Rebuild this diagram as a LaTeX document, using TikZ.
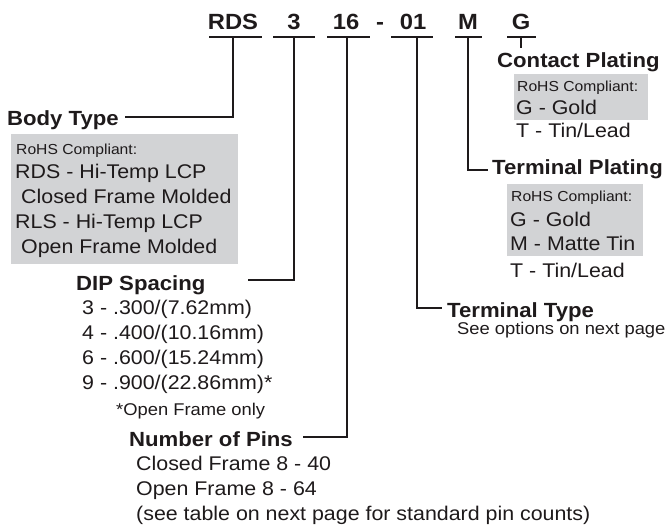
\documentclass[tikz,border=0pt]{standalone}
\usepackage{fontspec}
\setmainfont{Liberation Sans}[FakeStretch=1.08]
\definecolor{ink}{HTML}{1E1A1B}
\definecolor{boxgray}{HTML}{D2D3D5}
\begin{document}
\begin{tikzpicture}[x=1pt,y=-1pt,
  code/.style={inner sep=0pt,anchor=base,font=\fontsize{22}{26}\selectfont\bfseries,text=ink},
  hdr/.style={inner sep=0pt,anchor=base west,font=\fontsize{20.5}{24}\selectfont\bfseries,text=ink},
  txt/.style={inner sep=0pt,anchor=base west,font=\fontsize{19.8}{24}\selectfont,text=ink},
  mid/.style={inner sep=0pt,anchor=base west,font=\fontsize{17}{20}\selectfont,text=ink},
  sm/.style={inner sep=0pt,anchor=base west,font=\fontsize{14.5}{17}\selectfont,text=ink},
  uline/.style={draw=ink,line width=1.6pt},
  conn/.style={draw=ink,line width=1.5pt},
  graybox/.style={fill=boxgray,draw=none}]
\useasboundingbox (0,0) rectangle (668,526);
% part number code
\node[code] (cRDS) at (233,30) {RDS};
\node[code] (c3) at (294,30) {3};
\node[code] (c16) at (346,30) {16};
\node[code] (cdash) at (380,30) {-};
\node[code] (c01) at (413,30) {01};
\node[code] (cM) at (468,30) {M};
\node[code] (cG) at (521,30) {G};
\draw[uline] (209,37) -- (262,37);
\draw[uline] (273,37) -- (315,37);
\draw[uline] (327,37) -- (370,37);
\draw[uline] (391,37) -- (433,37);
\draw[uline] (455,37) -- (482,37);
\draw[uline] (507,37) -- (536,37);
\coordinate (uRDS) at (233,37);
\coordinate (u3) at (294,37);
\coordinate (u16) at (347,37);
\coordinate (u01) at (417,37);
\coordinate (uM) at (468,37);
\coordinate (uG) at (521,37);
% connector ends
\coordinate (eBT) at (125,117);
\coordinate (eDIP) at (248,280);
\coordinate (ePins) at (303,437);
\coordinate (eTT) at (442,308);
\coordinate (eTP) at (488,170);
\coordinate (eCP) at (521,48);
\draw[conn] (uRDS) |- (eBT);
\draw[conn] (u3) |- (eDIP);
\draw[conn] (u16) |- (ePins);
\draw[conn] (u01) |- (eTT);
\draw[conn] (uM) |- (eTP);
\draw[conn] (uG) -- (eCP);
% gray boxes
\path[graybox] (11,134) rectangle (238,264);
\path[graybox] (514,74) rectangle (648,120);
\path[graybox] (507,184) rectangle (643,256);
% Contact Plating
\node[hdr] (cp) at (497,68) {Contact Plating};
\node[sm] (cp1) at (517,92) {RoHS Compliant:};
\node[txt] (cp2) at (516,115) {G - Gold};
\node[txt] (cp3) at (516,138) {T - Tin/Lead};
% Terminal Plating
\node[hdr] (tp) at (492,175) {Terminal Plating};
\node[sm] (tp1) at (511,202) {RoHS Compliant:};
\node[txt] (tp2) at (510,227) {G - Gold};
\node[txt] (tp3) at (510,251) {M - Matte Tin};
\node[txt] (tp4) at (510,277) {T - Tin/Lead};
% Terminal Type
\node[hdr] (tt) at (447,317) {Terminal Type};
\node[mid] (tt1) at (457,334) {See options on next page};
% Body Type
\node[hdr] (bt) at (7,126) {Body Type};
\node[sm] (bt1) at (16,155) {RoHS Compliant:};
\node[txt] (bt2) at (15,179) {RDS - Hi-Temp LCP};
\node[txt] (bt3) at (21,204) {Closed Frame Molded};
\node[txt] (bt4) at (15,229) {RLS - Hi-Temp LCP};
\node[txt] (bt5) at (21,254) {Open Frame Molded};
% DIP Spacing
\node[hdr] (dip) at (76,290) {DIP Spacing};
\node[txt] (d1) at (82,314) {3 - .300/(7.62mm)};
\node[txt] (d2) at (82,339) {4 - .400/(10.16mm)};
\node[txt] (d3) at (82,364) {6 - .600/(15.24mm)};
\node[txt] (d4) at (82,389) {9 - .900/(22.86mm)*};
\node[mid] (d5) at (116,415) {*Open Frame only};
% Number of Pins
\node[hdr] (np) at (129,446) {Number of Pins};
\node[txt] (n1) at (136,470) {Closed Frame 8 - 40};
\node[txt] (n2) at (136,495) {Open Frame 8 - 64};
\node[txt] (n3) at (136,520) {(see table on next page for standard pin counts)};
\end{tikzpicture}
\end{document}
